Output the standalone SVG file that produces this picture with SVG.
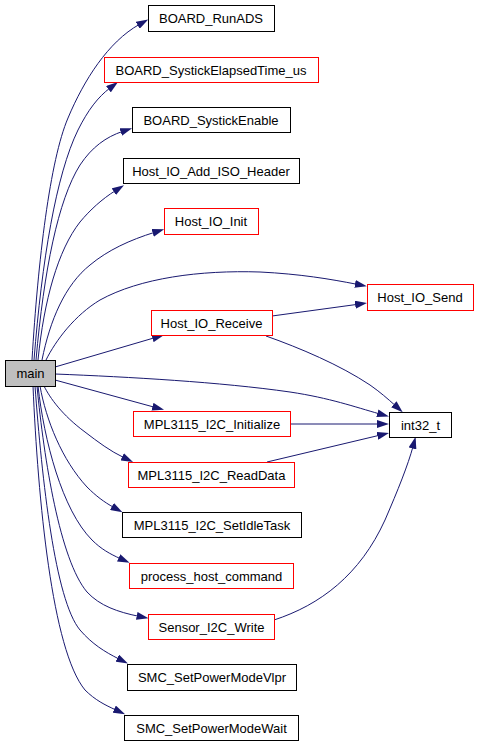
<svg xmlns="http://www.w3.org/2000/svg" width="479" height="747" viewBox="0 0 479 747">
<style>
.n rect{fill:#ffffff;stroke:#000000;stroke-width:1}
.n.r rect{stroke:#ff0000}
.n.m rect{fill:#bfbfbf}
.n text{font-family:"Liberation Sans",Arial,sans-serif;font-size:13px;fill:#000000;text-anchor:middle}
.e path{fill:none;stroke:#191970;stroke-width:1}
</style>
<defs>
<marker id="ah" markerWidth="12" markerHeight="8" viewBox="0 0 12 8" refX="2" refY="4" orient="auto" markerUnits="userSpaceOnUse">
<path d="M0,0 L12,4 L0,8 Z" fill="#191970"/>
</marker>
</defs>
<rect width="479" height="747" fill="#ffffff"/>
<g id="edges" class="e">
<path marker-end="url(#ah)" d="M32,360 C38,260 50,160 68,118 C84,80 108,42 139.5,24.3"/>
<path marker-end="url(#ah)" d="M34,360 C42,260 56,175 78,130 C88,110 98,97 110,88"/>
<path marker-end="url(#ah)" d="M36,360 C44,270 58,200 80,165 C92,147 106,137 122.6,131.4"/>
<path marker-end="url(#ah)" d="M38,360 C44,300 58,250 80,222 C90,210 102,199 115.5,190.6"/>
<path marker-end="url(#ah)" d="M42,360 C50,320 65,285 90,265 C108,250 130,240 154.6,232.3"/>
<path marker-end="url(#ah)" d="M46,360 C56,340 75,315 100,300 C140,278 200,270 260,272 C300,274 330,279 357,284.3"/>
<path marker-end="url(#ah)" d="M55,367 L154.4,337.8"/>
<path marker-end="url(#ah)" d="M272,316 L357.1,304.4"/>
<path marker-end="url(#ah)" d="M266,336 C300,348 340,365 370,385 C380,392 388,399 395.3,405.6"/>
<path marker-end="url(#ah)" d="M55,374 C130,377 220,382 290,392 C330,398 355,407 379.3,413.8"/>
<path marker-end="url(#ah)" d="M55,380 L154.4,407.2"/>
<path marker-end="url(#ah)" d="M290,424 L379,424"/>
<path marker-end="url(#ah)" d="M267,462 L379.3,435.3"/>
<path marker-end="url(#ah)" d="M44,386 C50,398 62,415 85,432 C98,442 110,451 124,457.7"/>
<path marker-end="url(#ah)" d="M40,386 C46,420 62,460 87,487 C96,496 104,502 113.7,507.4"/>
<path marker-end="url(#ah)" d="M38,386 C44,440 62,510 92,540 C101,549 110,554 120.5,558.7"/>
<path marker-end="url(#ah)" d="M37,386 C44,460 60,560 87,592 C100,606 118,612 138.7,616.3"/>
<path marker-end="url(#ah)" d="M35,386 C42,480 55,600 80,630 C92,644 105,652 119,659"/>
<path marker-end="url(#ah)" d="M33,386 C38,500 52,650 85,690 C95,700 105,705 116,710"/>
<path marker-end="url(#ah)" d="M274,620 C320,605 360,575 385,520 C398,490 408,465 413,446.5"/>
</g>
<g id="BOARD_RunADS" class="n"><rect x="148.5" y="5.5" width="126" height="26"/><text x="211" y="23">BOARD_RunADS</text></g>
<g id="BOARD_SystickElapsedTime_us" class="n r"><rect x="104.5" y="57.5" width="214" height="25"/><text x="211" y="74.5">BOARD_SystickElapsedTime_us</text></g>
<g id="BOARD_SystickEnable" class="n"><rect x="132.5" y="107.5" width="158" height="25"/><text x="211" y="124.5">BOARD_SystickEnable</text></g>
<g id="Host_IO_Add_ISO_Header" class="n"><rect x="123.5" y="158.5" width="176" height="25"/><text x="211" y="175.5">Host_IO_Add_ISO_Header</text></g>
<g id="Host_IO_Init" class="n r"><rect x="164.5" y="208.5" width="94" height="26"/><text x="211" y="226">Host_IO_Init</text></g>
<g id="Host_IO_Send" class="n r"><rect x="367.5" y="284.5" width="106" height="26"/><text x="420" y="302">Host_IO_Send</text></g>
<g id="Host_IO_Receive" class="n r"><rect x="151.5" y="310.5" width="121" height="25"/><text x="211.5" y="327.5">Host_IO_Receive</text></g>
<g id="main" class="n m"><rect x="5.5" y="360.5" width="50" height="26"/><text x="30.5" y="378">main</text></g>
<g id="int32_t" class="n"><rect x="389.5" y="412.5" width="62" height="25"/><text x="420.5" y="429.5">int32_t</text></g>
<g id="MPL3115_I2C_Initialize" class="n r"><rect x="133.5" y="411.5" width="157" height="25"/><text x="212" y="428.5">MPL3115_I2C_Initialize</text></g>
<g id="MPL3115_I2C_ReadData" class="n r"><rect x="128.5" y="462.5" width="166" height="25"/><text x="211.5" y="479.5">MPL3115_I2C_ReadData</text></g>
<g id="MPL3115_I2C_SetIdleTask" class="n"><rect x="122.5" y="512.5" width="179" height="25"/><text x="212" y="529.5">MPL3115_I2C_SetIdleTask</text></g>
<g id="process_host_command" class="n r"><rect x="129.5" y="563.5" width="164" height="25"/><text x="211.5" y="580.5">process_host_command</text></g>
<g id="Sensor_I2C_Write" class="n r"><rect x="148.5" y="614.5" width="126" height="25"/><text x="211.5" y="631.5">Sensor_I2C_Write</text></g>
<g id="SMC_SetPowerModeVlpr" class="n"><rect x="127.5" y="664.5" width="169" height="26"/><text x="212" y="682">SMC_SetPowerModeVlpr</text></g>
<g id="SMC_SetPowerModeWait" class="n"><rect x="124.5" y="715.5" width="174" height="25"/><text x="211.5" y="732.5">SMC_SetPowerModeWait</text></g>
</svg>
